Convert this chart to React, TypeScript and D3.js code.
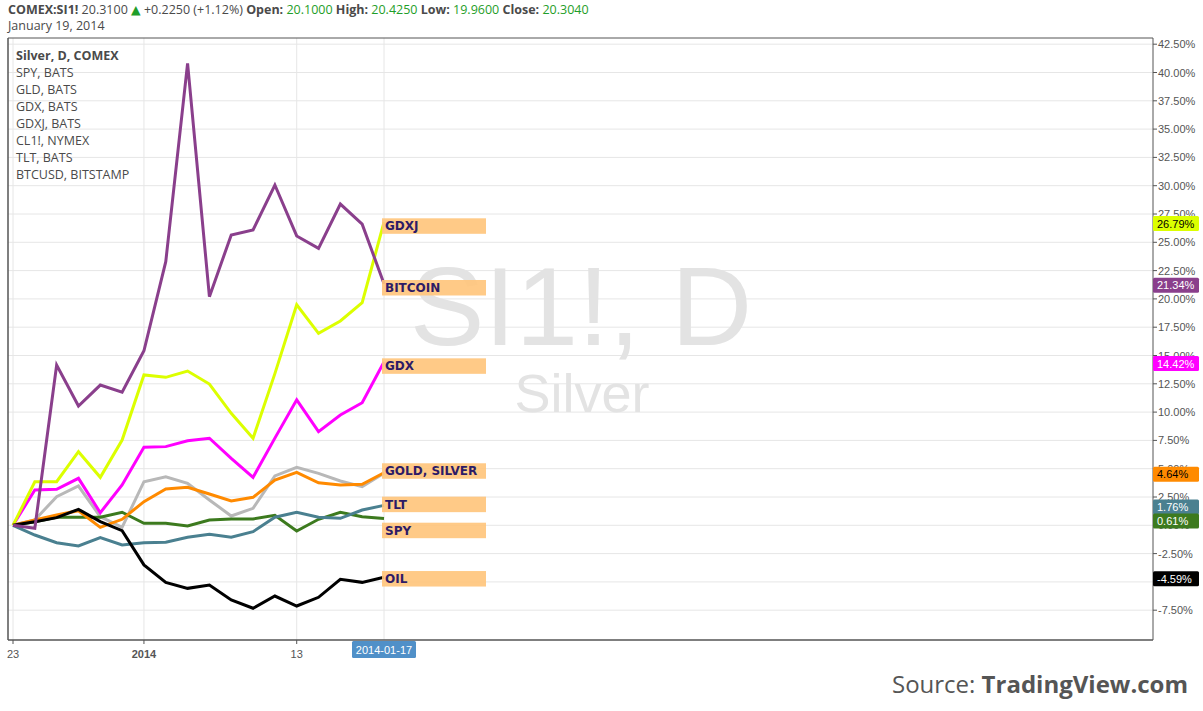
import React from "react";
import * as d3 from "d3";

const dates = [
  "2013-12-23", "2013-12-24", "2013-12-26", "2013-12-27", "2013-12-30", "2013-12-31",
  "2014-01-02", "2014-01-03", "2014-01-06", "2014-01-07", "2014-01-08", "2014-01-09",
  "2014-01-10", "2014-01-13", "2014-01-14", "2014-01-15", "2014-01-16", "2014-01-17",
];

const silver = [0, 0.47, 2.53, 3.47, 0.76, -0.18, 3.85, 4.29, 3.71, 2.24, 0.82, 1.5, 4.36, 5.12, 4.59, 3.91, 3.41, 4.6];
const spy = [0, 0.32, 0.71, 0.71, 0.71, 1.15, 0.18, 0.18, -0.06, 0.47, 0.56, 0.56, 0.88, -0.5, 0.53, 1.15, 0.76, 0.61];
const gld = [0, 0.47, 0.91, 1.29, -0.18, 0.53, 2.09, 3.21, 3.36, 2.77, 2.15, 2.47, 4.0, 4.68, 3.76, 3.56, 3.62, 4.64];
const gdx = [0, 3.12, 3.18, 4.15, 1.11, 3.56, 6.89, 6.95, 7.47, 7.69, 5.92, 4.24, 7.7, 11.08, 8.27, 9.74, 10.83, 14.42];
const gdxj = [0, 3.85, 3.85, 6.5, 4.24, 7.53, 13.28, 13.07, 13.63, 12.48, 9.89, 7.69, 13.4, 19.48, 16.96, 18.05, 19.66, 26.79];
const oil = [0, 0.32, 0.68, 1.41, 0.32, -0.47, -3.5, -5.04, -5.57, -5.27, -6.6, -7.33, -6.25, -7.13, -6.36, -4.77, -5.04, -4.59];
const tlt = [0, -0.86, -1.54, -1.83, -1.09, -1.74, -1.54, -1.5, -1.06, -0.8, -1.06, -0.56, 0.71, 1.15, 0.71, 0.62, 1.35, 1.76];
const btc = [0, -0.27, 14.16, 10.54, 12.39, 11.75, 15.42, 23.29, 40.8, 20.2, 25.65, 26.09, 30.06, 25.56, 24.47, 28.38, 26.6, 21.34];

const seriesNames = ["SI1!", "SPY", "GLD", "GDX", "GDXJ", "CL1!", "TLT", "BTCUSD"];
const seriesValues = [silver, spy, gld, gdx, gdxj, oil, tlt, btc];
const seriesColors = ["#b8b8b8", "#3c7a1e", "#ff8a00", "#ff00ff", "#dcff00", "#000000", "#4a8090", "#8a3f8c"];
const drawOrder = [0, 1, 2, 6, 3, 4, 5, 7];
const valueLabelShown = [false, true, true, true, true, true, true, true];
const valueLabelTextColor = ["#000", "#fff", "#000", "#fff", "#000", "#fff", "#fff", "#fff"];

const legendLines = ["Silver, D, COMEX", "SPY, BATS", "GLD, BATS", "GDX, BATS", "GDXJ, BATS", "CL1!, NYMEX", "TLT, BATS", "BTCUSD, BITSTAMP"];

const noteTexts = ["GDXJ", "BITCOIN", "GDX", "GOLD, SILVER", "TLT", "SPY", "OIL"];
const noteLevels = [27.12, 21.67, 14.75, 5.48, 2.53, 0.23, -4.04];

const yTicks = d3.range(-7.5, 42.5 + 0.001, 2.5);
const xTickIndex = [0, 6, 13];
const xTickText = ["23", "2014", "13"];
const crosshairLabel = "2014-01-17";

const W = 1203;
const H = 711;
const plotLeft = 8;
const plotRight = 1153;
const plotTop = 38;
const plotBottom = 640;

export default function App() {
  const x = d3.scalePoint<string>().domain(dates).range([13, 384]);
  const y = d3.scaleLinear().domain([-7.5, 42.5]).range([610.2, 44.2]);
  const line = d3
    .line<number>()
    .x((_, i) => x(dates[i]) as number)
    .y((d) => y(d));

  const fmt = (v: number) => v.toFixed(2) + "%";
  const lastX = x(dates[dates.length - 1]) as number;

  // value labels with simple de-overlap
  const boxH = 15;
  const labels = seriesValues
    .map((vals, i) => ({ i, v: vals[vals.length - 1], cy: y(vals[vals.length - 1]) + 1.5 }))
    .filter((d) => valueLabelShown[d.i])
    .sort((a, b) => a.cy - b.cy);
  for (let k = 1; k < labels.length; k++) {
    if (labels[k].cy - labels[k - 1].cy < boxH - 1) labels[k].cy = labels[k - 1].cy + boxH - 1;
  }

  const sansUI = "'Open Sans', 'DejaVu Sans', sans-serif";
  const arial = "'Liberation Sans', Arial, sans-serif";
  const green = "#1f9e2a";
  const gray = "#4a4a4a";

  return (
    <div style={{ position: "fixed", left: 0, top: 0 }}>
      <svg width={W} height={H} style={{ display: "block", background: "#fff" }}>
        <rect x={0} y={0} width={W} height={H} fill="#fff" />
        {/* grid */}
        {yTicks.map((t) => (
          <line key={"gy" + t} x1={plotLeft} x2={plotRight} y1={y(t)} y2={y(t)} stroke="#e6e6e6" strokeWidth={1} />
        ))}
        {[...xTickIndex, dates.length - 1].map((i) => (
          <line key={"gx" + i} x1={x(dates[i])} x2={x(dates[i])} y1={plotTop} y2={plotBottom} stroke="#e6e6e6" strokeWidth={1} />
        ))}

        {/* watermark */}
        <text x={581} y={345} textAnchor="middle" fontFamily={arial} fontSize={112} fill="#e3e3e3">
          SI1!, D
        </text>
        <text x={582} y={412} textAnchor="middle" fontFamily={arial} fontSize={54} fill="#e3e3e3">
          Silver
        </text>

        {/* frame */}
        <line x1={plotLeft} x2={plotRight} y1={plotTop} y2={plotTop} stroke="#555" strokeWidth={1} />
        <line x1={plotLeft} x2={plotLeft} y1={plotTop} y2={plotBottom} stroke="#555" strokeWidth={1.5} />
        <line x1={plotLeft} x2={plotRight} y1={plotBottom} y2={plotBottom} stroke="#555" strokeWidth={1.5} />
        <line x1={plotRight} x2={plotRight} y1={plotTop} y2={plotBottom} stroke="#555" strokeWidth={1} />

        {/* lines */}
        {drawOrder.map((i) => (
          <path
            key={"s" + i}
            d={line(seriesValues[i]) || ""}
            fill="none"
            stroke={seriesColors[i]}
            strokeWidth={3}
            strokeLinejoin="miter"
          />
        ))}

        {/* note annotations */}
        {noteTexts.map((t, k) => (
          <g key={"n" + k}>
            <rect x={lastX - 2} y={y(noteLevels[k])} width={104} height={15.5} fill="#ffc47a" opacity={0.9} />
            <text
              x={lastX + 1}
              y={y(noteLevels[k]) + 12}
              fontFamily="'DejaVu Sans', Verdana, sans-serif"
              fontWeight="bold"
              fontSize={12}
              fill="#2d1b66"
            >
              {t}
            </text>
          </g>
        ))}

        {/* legend */}
        {legendLines.map((t, k) => (
          <text
            key={"l" + k}
            x={16}
            y={60 + k * 17}
            fontFamily={sansUI}
            fontSize={12.5}
            fontWeight={k === 0 ? "bold" : "normal"}
            fill={gray}
          >
            {t}
          </text>
        ))}

        {/* right axis */}
        {yTicks.map((t) => (
          <g key={"yt" + t}>
            <line x1={plotRight} x2={plotRight + 4} y1={y(t)} y2={y(t)} stroke="#555" />
            <text x={plotRight + 5} y={y(t) + 4} fontFamily={arial} fontSize={11} fill="#555">
              {fmt(t)}
            </text>
          </g>
        ))}
        {labels.map((d) => (
          <g key={"vl" + d.i}>
            <rect x={plotRight} y={d.cy - boxH / 2} width={46} height={boxH} rx={1.5} fill={seriesColors[d.i]} />
            <text x={plotRight + 4} y={d.cy + 4} fontFamily={arial} fontSize={11} fill={valueLabelTextColor[d.i]}>
              {fmt(d.v)}
            </text>
          </g>
        ))}

        {/* bottom axis */}
        {xTickIndex.map((i, k) => (
          <g key={"xt" + i}>
            <line x1={x(dates[i])} x2={x(dates[i])} y1={plotBottom} y2={plotBottom + 4} stroke="#555" />
            <text
              x={x(dates[i])}
              y={658}
              textAnchor="middle"
              fontFamily={arial}
              fontSize={11}
              fontWeight={k === 1 ? "bold" : "normal"}
              fill="#555"
            >
              {xTickText[k]}
            </text>
          </g>
        ))}
        <rect x={lastX - 32} y={641} width={64} height={17} rx={1.5} fill="#5090c8" />
        <text x={lastX} y={654} textAnchor="middle" fontFamily={arial} fontSize={11} fill="#fff">
          {crosshairLabel}
        </text>

        {/* header */}
        <text x={8} y={14} fontFamily={sansUI} fontSize={12.5} fill={gray}>
          <tspan fontWeight="bold">COMEX:SI1!</tspan>
          <tspan> 20.3100 </tspan>
          <tspan fill={green}>▲</tspan>
          <tspan> +0.2250 (+1.12%)  </tspan>
          <tspan fontWeight="bold">Open: </tspan>
          <tspan fill={green}>20.1000 </tspan>
          <tspan fontWeight="bold">High: </tspan>
          <tspan fill={green}>20.4250 </tspan>
          <tspan fontWeight="bold">Low: </tspan>
          <tspan fill={green}>19.9600 </tspan>
          <tspan fontWeight="bold">Close: </tspan>
          <tspan fill={green}>20.3040</tspan>
        </text>
        <text x={8} y={30} fontFamily={sansUI} fontSize={12.5} fill={gray}>
          January 19, 2014
        </text>

        {/* source */}
        <text x={1188} y={693} textAnchor="end" fontFamily={sansUI} fontSize={24} fill="#555">
          <tspan>Source: </tspan>
          <tspan fontWeight="bold">TradingView.com</tspan>
        </text>
      </svg>
    </div>
  );
}
